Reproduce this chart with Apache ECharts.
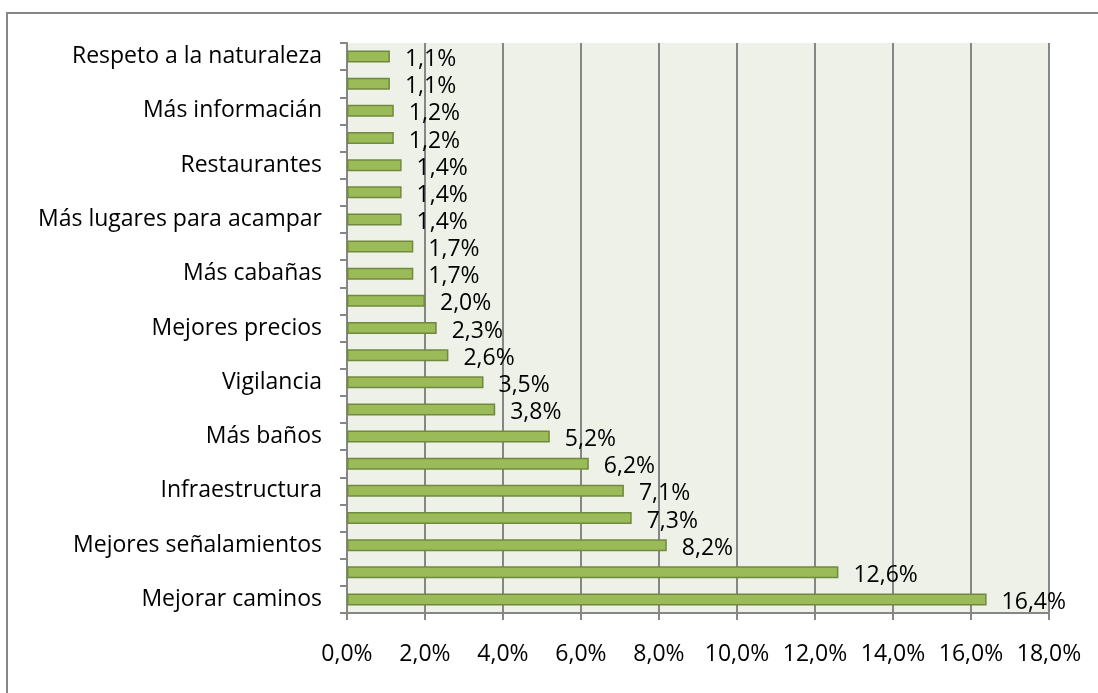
<!DOCTYPE html>
<html>
<head>
<meta charset="utf-8">
<script src="https://cdn.jsdelivr.net/npm/echarts@6/dist/echarts.min.js"></script>
<style>
  html, body { margin: 0; padding: 0; background: #fff; }
  #chart { width: 1098px; height: 693px; }
</style>
</head>
<body>
<div id="chart"></div>
<script>
// categories bottom -> top; blanks are rows whose label is not shown
const categories = [
  'Mejorar caminos', '', 'Mejores señalamientos', '', 'Infraestructura', '',
  'Más baños', '', 'Vigilancia', '', 'Mejores precios', '', 'Más cabañas', '',
  'Más lugares para acampar', '', 'Restaurantes', '', 'Más informacián', '',
  'Respeto a la naturaleza'
];
const values = [
  16.4, 12.6, 8.2, 7.3, 7.1, 6.2, 5.2, 3.8, 3.5, 2.6, 2.3,
  2.0, 1.7, 1.7, 1.4, 1.4, 1.4, 1.2, 1.2, 1.1, 1.1
];
const xTicks = [0, 2, 4, 6, 8, 10, 12, 14, 16, 18];

const fmt = v => v.toFixed(1).replace('.', ',') + '%';
const font = 'Open Sans';
const fs = 23;

const chart = echarts.init(document.getElementById('chart'));
chart.setOption({
  animation: false,
  textStyle: { fontFamily: font },
  graphic: [{
    type: 'rect',
    shape: { x: 7, y: 13, width: 1200, height: 800 },
    style: { fill: 'none', stroke: '#868686', lineWidth: 2 },
    silent: true
  }],
  grid: { left: 347, right: 49, top: 43, bottom: 80, show: true,
          backgroundColor: '#eef1e8', borderWidth: 0 },
  xAxis: {
    type: 'value',
    min: xTicks[0],
    max: xTicks[xTicks.length - 1],
    interval: 2,
    axisLine: { show: true, lineStyle: { color: '#868686', width: 2 } },
    axisTick: { show: true, length: 7, lineStyle: { color: '#868686', width: 2 } },
    splitLine: { show: true, lineStyle: { color: '#868686', width: 2 } },
    axisLabel: { formatter: fmt, color: '#000', fontSize: fs, margin: 30, fontFamily: font }
  },
  yAxis: {
    type: 'category',
    data: categories,
    axisLine: { show: true, lineStyle: { color: '#868686', width: 2 } },
    axisTick: { show: true, length: 7, lineStyle: { color: '#868686', width: 2 } },
    axisLabel: { interval: 0, color: '#000', fontSize: fs, margin: 25, fontFamily: font }
  },
  series: [{
    type: 'bar',
    data: values,
    barWidth: 12,
    itemStyle: { color: '#9bbb59', borderColor: '#71893f', borderWidth: 1.5 },
    label: {
      show: true,
      position: 'right',
      distance: 15,
      offset: [0, 3],
      formatter: p => fmt(p.value),
      color: '#000',
      fontSize: fs,
      fontFamily: font
    }
  }]
});
</script>
</body>
</html>
